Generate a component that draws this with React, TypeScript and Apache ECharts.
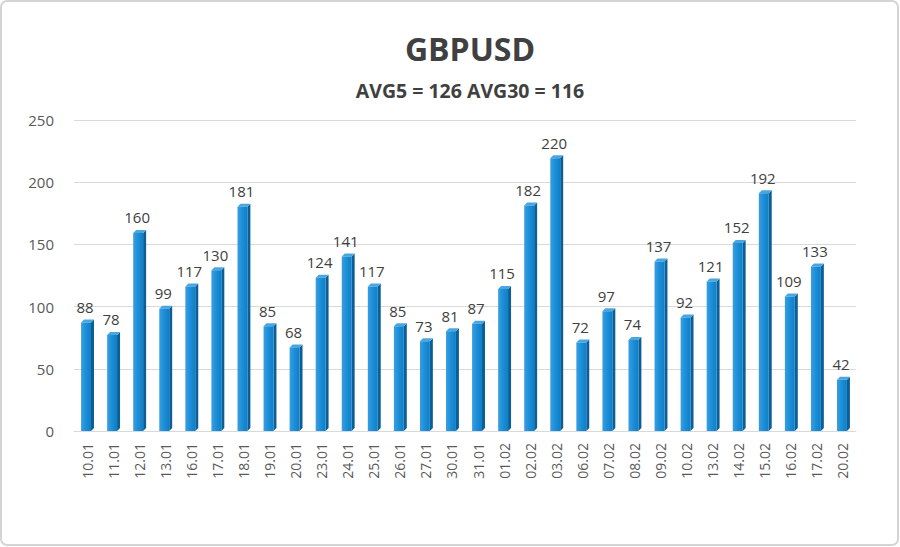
import React, { useEffect, useRef } from "react";
import * as echarts from "echarts";

const categories = ["10.01","11.01","12.01","13.01","16.01","17.01","18.01","19.01","20.01","23.01","24.01","25.01","26.01","27.01","30.01","31.01","01.02","02.02","03.02","06.02","07.02","08.02","09.02","10.02","13.02","14.02","15.02","16.02","17.02","20.02"];
const values = [88,78,160,99,117,130,181,85,68,124,141,117,85,73,81,87,115,182,220,72,97,74,137,92,121,152,192,109,133,42];
const yTicks = [0, 50, 100, 150, 200, 250];
const titleText = "GBPUSD";
const subtitleText = "AVG5 = 126 AVG30 = 116";

export default function App() {
  const ref = useRef<HTMLDivElement>(null);
  useEffect(() => {
    if (!ref.current) return;
    const chart = echarts.init(ref.current, null, { renderer: "svg" });
    const option: any = {
      animation: false,
      backgroundColor: "#ffffff",
      title: [
        {
          text: titleText,
          left: 465,
          top: 27,
          textAlign: "center",
          textStyle: { fontFamily: "Open Sans", fontWeight: "bold", fontSize: 32, color: "#404040" },
        },
        {
          text: subtitleText,
          left: 465,
          top: 75,
          textAlign: "center",
          textStyle: { fontFamily: "Open Sans", fontWeight: "bold", fontSize: 19.5, color: "#404040" },
        },
      ],
      graphic: [
        {
          type: "rect",
          shape: { x: 1, y: 1, width: 897, height: 544, r: 6 },
          style: { fill: "none", stroke: "#d4d4d4", lineWidth: 2 },
          silent: true,
        },
      ],
      grid: { left: 74, right: 44, top: 120, bottom: 116 },
      xAxis: {
        type: "category",
        data: categories,
        axisLine: { show: true, lineStyle: { color: "#d9d9d9", width: 1 } },
        axisTick: { show: false },
        axisLabel: {
          rotate: 90,
          interval: 0,
          margin: 12,
          fontFamily: "Open Sans",
          fontSize: 14,
          color: "#595959",
        },
      },
      yAxis: {
        type: "value",
        min: yTicks[0],
        max: yTicks[yTicks.length - 1],
        interval: 50,
        axisLine: { show: false },
        axisTick: { show: false },
        splitLine: { lineStyle: { color: "#d9d9d9", width: 1 } },
        axisLabel: { fontFamily: "Open Sans", fontSize: 15, color: "#595959", margin: 20 },
      },
      series: [
        {
          type: "custom",
          data: values.map((v, i) => [i, v]),
          encode: { x: 0, y: 1 },
          renderItem: (params: any, api: any) => {
            const idx = api.value(0);
            const val = api.value(1);
            const top = api.coord([idx, val]);
            const base = api.coord([idx, 0]);
            const band = api.size([1, 0])[0];
            const w = band * 0.38;
            const d = 3;
            const x0 = top[0] - w / 2 - 1;
            const x1 = x0 + w;
            const yT = top[1] + 1;
            const yB = base[1];
            return {
              type: "group",
              children: [
                {
                  type: "polygon",
                  shape: { points: [[x1, yT], [x1 + d, yT - d], [x1 + d, yB - d], [x1, yB]] },
                  style: { fill: "#0b5f96" },
                },
                {
                  type: "polygon",
                  shape: { points: [[x0, yT], [x0 + d, yT - d], [x1 + d, yT - d], [x1, yT]] },
                  style: { fill: "#4ba6e0" },
                },
                {
                  type: "rect",
                  shape: { x: x0, y: yT, width: w, height: yB - yT },
                  style: {
                    fill: new echarts.graphic.LinearGradient(0, 0, 1, 0, [
                      { offset: 0, color: "#3b9ee0" },
                      { offset: 0.5, color: "#1a8ed8" },
                      { offset: 1, color: "#0f7fc6" },
                    ]),
                  },
                },
                {
                  type: "text",
                  style: {
                    text: String(val),
                    x: top[0] - 2,
                    y: yT - 8,
                    align: "center",
                    verticalAlign: "bottom",
                    fontFamily: "Open Sans",
                    fontSize: 15,
                    fill: "#404040",
                  },
                },
              ],
            };
          },
        },
      ],
    };
    chart.setOption(option);
    return () => chart.dispose();
  }, []);
  return (
    <div
      ref={ref}
      style={{ position: "absolute", left: 0, top: 0, width: 900, height: 547 }}
    />
  );
}
